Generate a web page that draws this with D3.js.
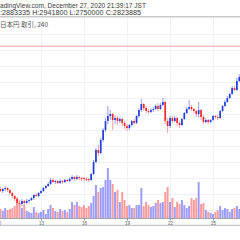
<!DOCTYPE html>
<html>
<head>
<meta charset="utf-8">
<script src="https://cdn.jsdelivr.net/npm/d3@7"></script>
<style>
    html, body { margin: 0; padding: 0; background: #fff; overflow: hidden; }
    svg { display: block; font-family: "Liberation Sans", Arial, sans-serif; }
</style>
</head>
<body>
<svg id="chart"></svg>
<script>
// BTC/JPY 4h candles, Dec 10 00:00 JST onwards
const opens = [1918750, 1931250, 1918750, 1931250, 1937500, 1925000, 1906250, 1887500, 1868750, 1843750,
    1837500, 1856250, 1843750, 1856250, 1862500, 1875000, 1893750, 1887500, 1906250, 1918750,
    1937500, 1950000, 1962500, 1987500, 1975000, 1981250, 1968750, 1981250, 1975000, 1987500,
    1981250, 1993750, 2006250, 1993750, 2006250, 2000000, 2000000, 1993750, 1993750, 1987500,
    2025000, 2100000, 2175000, 2156250, 2237500, 2300000, 2356250, 2387500, 2400000, 2362500,
    2375000, 2356250, 2368750, 2343750, 2325000, 2312500, 2331250, 2356250, 2343750, 2387500,
    2425000, 2462500, 2437500, 2418750, 2412500, 2425000, 2431250, 2450000, 2431250, 2456250,
    2475000, 2356250, 2325000, 2375000, 2356250, 2375000, 2343750, 2331250, 2368750, 2406250,
    2431250, 2443750, 2431250, 2418750, 2400000, 2425000, 2381250, 2350000, 2362500, 2350000,
    2362500, 2387500, 2381250, 2375000, 2418750, 2450000, 2475000, 2500000, 2525000, 2562500,
    2550000, 2606250];
const highs = [1943750, 1943750, 1937500, 1950000, 1943750, 1931250, 1912500, 1893750, 1881250, 1862500,
    1868750, 1862500, 1868750, 1868750, 1881250, 1900000, 1906250, 1912500, 1925000, 1943750,
    1956250, 1975000, 2000000, 2000000, 1987500, 1987500, 1993750, 1987500, 1993750, 1993750,
    2006250, 2018750, 2012500, 2018750, 2012500, 2006250, 2006250, 2006250, 2000000, 2031250,
    2112500, 2187500, 2206250, 2250000, 2312500, 2375000, 2450000, 2425000, 2406250, 2393750,
    2387500, 2381250, 2375000, 2356250, 2337500, 2337500, 2362500, 2368750, 2393750, 2437500,
    2493750, 2468750, 2450000, 2431250, 2437500, 2443750, 2462500, 2468750, 2468750, 2500000,
    2481250, 2375000, 2387500, 2387500, 2387500, 2381250, 2356250, 2375000, 2412500, 2443750,
    2487500, 2456250, 2437500, 2425000, 2475000, 2431250, 2393750, 2375000, 2368750, 2368750,
    2393750, 2393750, 2393750, 2425000, 2456250, 2487500, 2512500, 2531250, 2575000, 2575000,
    2625000, 2650000];
const lows = [1906250, 1912500, 1906250, 1918750, 1912500, 1893750, 1875000, 1856250, 1825000, 1818750,
    1825000, 1831250, 1837500, 1843750, 1856250, 1862500, 1881250, 1881250, 1900000, 1912500,
    1931250, 1943750, 1956250, 1968750, 1962500, 1962500, 1962500, 1962500, 1968750, 1975000,
    1975000, 1987500, 1981250, 1987500, 1987500, 1981250, 1981250, 1981250, 1975000, 1981250,
    2018750, 2093750, 2137500, 2150000, 2225000, 2287500, 2337500, 2362500, 2300000, 2337500,
    2331250, 2343750, 2325000, 2306250, 2293750, 2300000, 2318750, 2331250, 2337500, 2375000,
    2412500, 2418750, 2406250, 2400000, 2406250, 2412500, 2425000, 2418750, 2425000, 2450000,
    2337500, 2281250, 2312500, 2343750, 2350000, 2325000, 2312500, 2325000, 2362500, 2400000,
    2425000, 2418750, 2406250, 2381250, 2375000, 2362500, 2337500, 2343750, 2337500, 2343750,
    2356250, 2368750, 2362500, 2368750, 2412500, 2443750, 2468750, 2493750, 2518750, 2543750,
    2543750, 2600000];
const closes = [1931250, 1918750, 1931250, 1937500, 1925000, 1906250, 1887500, 1868750, 1843750, 1837500,
    1856250, 1843750, 1856250, 1862500, 1875000, 1893750, 1887500, 1906250, 1918750, 1937500,
    1950000, 1962500, 1987500, 1975000, 1981250, 1968750, 1981250, 1975000, 1987500, 1981250,
    1993750, 2006250, 1993750, 2006250, 2000000, 1993750, 1993750, 1987500, 1987500, 2025000,
    2100000, 2175000, 2156250, 2237500, 2300000, 2356250, 2387500, 2400000, 2362500, 2375000,
    2356250, 2368750, 2343750, 2325000, 2312500, 2331250, 2356250, 2343750, 2387500, 2425000,
    2462500, 2437500, 2418750, 2412500, 2425000, 2431250, 2450000, 2431250, 2456250, 2475000,
    2356250, 2325000, 2375000, 2356250, 2375000, 2343750, 2331250, 2368750, 2406250, 2431250,
    2443750, 2431250, 2418750, 2400000, 2425000, 2381250, 2350000, 2362500, 2350000, 2362500,
    2387500, 2381250, 2375000, 2418750, 2450000, 2475000, 2500000, 2525000, 2562500, 2550000,
    2606250, 2631250];
const volumes = [800, 900, 700, 1000, 800, 900, 1000, 1200, 2000, 1400,
    1000, 1300, 700, 600, 500, 1100, 600, 500, 600, 800,
    400, 900, 1300, 1000, 700, 600, 900, 700, 800, 600,
    900, 1600, 1300, 1600, 1200, 1100, 1300, 1000, 1200, 1500,
    2200, 3300, 2600, 3000, 3100, 3800, 5000, 3800, 3400, 2600,
    2800, 1600, 2600, 1800, 1200, 1300, 1000, 1000, 1300, 1300,
    3000, 1200, 1600, 1300, 1100, 1200, 1500, 1800, 1500, 1600,
    2600, 3100, 1600, 2000, 1100, 1600, 1400, 1800, 1300, 1000,
    1200, 2000, 1800, 2000, 3600, 1400, 1500, 800, 600, 500,
    400, 600, 800, 1200, 800, 1000, 900, 600, 900, 1000,
    1200, 900];

const tickDays = [10, 13, 16, 19, 22, 25];
const priceGrid = [1800000, 1900000, 2000000, 2100000, 2200000, 2300000, 2400000, 2500000, 2600000, 2700000, 2800000, 2900000];
const lastPrice = 2823885;

const headerLines = [
    'adingView.com, December 27, 2020 21:39:17 JST',
    ':2883335 H:2941800 L:2750000 C:2823885'
];
const headerWidths = [146, 141];
const legendText = '日本円 取引, 240';

// build rows
const start = new Date(Date.UTC(2020, 11, 10, 0));
const data = opens.map((o, i) => ({
    t: d3.utcHour.offset(start, i * 4),
    o: o, h: highs[i], l: lows[i], c: closes[i], v: volumes[i]
}));

let width = 240, height = 240;
let paneTop = 18, paneBottom = 218.5;

let svg = d3.select('#chart')
    .attr('width', width)
    .attr('height', height);

svg.append('rect').attr('width', width).attr('height', height).attr('fill', '#fff');

// scales
let xScale = d3.scaleUtc()
    .domain([new Date(Date.UTC(2020, 11, 10)), new Date(Date.UTC(2020, 11, 25))])
    .range([-2, 213]);

let yScale = d3.scaleLinear()
    .domain([1800000, 2900000])
    .range([210, 34]);

let volScale = d3.scaleLinear()
    .domain([0, 6000])
    .range([paneBottom - 0.5, paneBottom - 60.5]);

const tickDates = tickDays.map(d => new Date(Date.UTC(2020, 11, d)));

// grid
svg.append('g')
    .selectAll('line')
    .data(priceGrid)
    .enter()
    .append('line')
    .attr('x1', 0).attr('x2', width)
    .attr('y1', d => Math.round(yScale(d)) + 0.5)
    .attr('y2', d => Math.round(yScale(d)) + 0.5)
    .attr('stroke', '#eef1f6');

svg.append('g')
    .selectAll('line')
    .data(tickDates)
    .enter()
    .append('line')
    .attr('x1', d => Math.round(xScale(d)) + 0.5)
    .attr('x2', d => Math.round(xScale(d)) + 0.5)
    .attr('y1', paneTop).attr('y2', paneBottom)
    .attr('stroke', '#eef1f6');

// header
svg.append('g')
    .selectAll('text')
    .data(headerLines)
    .enter()
    .append('text')
    .attr('x', 0)
    .attr('y', (d, i) => 8 + i * 6.5)
    .attr('font-size', 6.6)
    .attr('textLength', (d, i) => headerWidths[i])
    .attr('lengthAdjust', 'spacingAndGlyphs')
    .attr('fill', '#3a3a3a')
    .text(d => d);

svg.append('line')
    .attr('x1', 0).attr('x2', width)
    .attr('y1', 16.8).attr('y2', 16.8)
    .attr('stroke', '#c9cacc')
    .attr('stroke-width', 1.6);

svg.append('text')
    .attr('x', 0)
    .attr('y', 27)
    .attr('font-size', 6.5)
    .attr('font-family', '"Noto Sans CJK JP", sans-serif')
    .attr('fill', '#555')
    .text(legendText);

// last price line
svg.append('line')
    .attr('x1', 0).attr('x2', width)
    .attr('y1', yScale(lastPrice)).attr('y2', yScale(lastPrice))
    .attr('stroke', '#f7a3a3')
    .attr('stroke-width', 1);

const upCol = '#1f3fe0', downCol = '#f52a2a';
const upVol = '#9d9dfb', downVol = '#fb9d9d';

// volume
svg.append('g')
    .selectAll('rect')
    .data(data)
    .enter()
    .append('rect')
    .attr('x', d => xScale(d.t) - 1)
    .attr('width', 2)
    .attr('y', d => volScale(d.v))
    .attr('height', d => volScale(0) - volScale(d.v))
    .attr('fill', d => d.c >= d.o ? upVol : downVol);

// wicks
svg.append('g')
    .selectAll('line')
    .data(data)
    .enter()
    .append('line')
    .attr('x1', d => xScale(d.t))
    .attr('x2', d => xScale(d.t))
    .attr('y1', d => yScale(d.h))
    .attr('y2', d => yScale(d.l))
    .attr('stroke', d => d.c >= d.o ? '#7f86f5' : '#f58a8a')
    .attr('stroke-width', 0.8);

// bodies
svg.append('g')
    .selectAll('rect')
    .data(data)
    .enter()
    .append('rect')
    .attr('x', d => xScale(d.t) - 0.85)
    .attr('width', 1.7)
    .attr('y', d => yScale(Math.max(d.o, d.c)))
    .attr('height', d => Math.max(1, Math.abs(yScale(d.o) - yScale(d.c))))
    .attr('fill', d => d.c >= d.o ? upCol : downCol);

// x axis
svg.append('line')
    .attr('x1', 0).attr('x2', width)
    .attr('y1', paneBottom).attr('y2', paneBottom)
    .attr('stroke', '#8a8d93')
    .attr('stroke-width', 0.8);

let xAxis = svg.append('g')
    .attr('transform', `translate(0, ${paneBottom})`)
    .call(d3.axisBottom(xScale)
        .tickValues(tickDates)
        .tickFormat(d3.utcFormat('%-d'))
        .tickSize(2)
        .tickSizeOuter(0));

xAxis.select('.domain').remove();
xAxis.selectAll('line').attr('stroke', '#8a8d93');
xAxis.selectAll('text')
    .attr('y', 3)
    .attr('font-size', 4.6)
    .attr('font-family', '"Liberation Sans", Arial, sans-serif')
    .attr('fill', '#555');

svg.append('line')
    .attr('x1', 0).attr('x2', width)
    .attr('y1', 225.3).attr('y2', 225.3)
    .attr('stroke', '#c4c5c8')
    .attr('stroke-width', 1.2);
</script>
</body>
</html>
